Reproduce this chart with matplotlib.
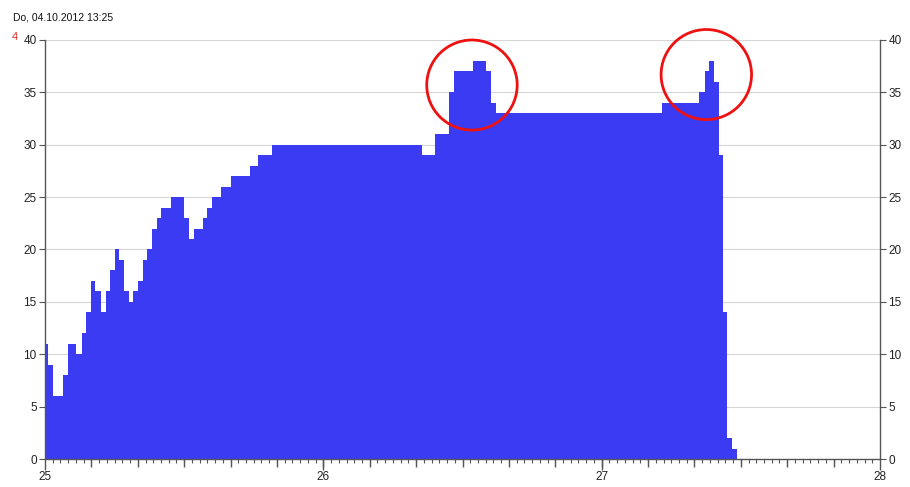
import matplotlib
matplotlib.use("Agg")
import matplotlib.pyplot as plt
from matplotlib.patches import Ellipse
from matplotlib.ticker import MultipleLocator
import numpy as np

plt.rcParams["font.family"] = ["Liberation Sans", "DejaVu Sans"]

# step start positions (day) and values
step_x = [25.000, 25.012, 25.030, 25.066, 25.081, 25.111, 25.132, 25.147, 25.164,
          25.179, 25.201, 25.219, 25.235, 25.252, 25.266, 25.283, 25.301, 25.316,
          25.334, 25.352, 25.367, 25.385, 25.401, 25.418, 25.451, 25.499, 25.516,
          25.534, 25.567, 25.582, 25.601, 25.634, 25.667, 25.735, 25.767, 25.816,
          26.354, 26.401, 26.452, 26.470, 26.538, 26.585, 26.601, 26.619, 27.216,
          27.350, 27.372, 27.387, 27.405, 27.422, 27.435, 27.452, 27.467, 27.485]
step_y = [11, 9, 6, 8, 11, 10, 12, 14, 17,
          16, 14, 16, 18, 20, 19, 16, 15, 16,
          17, 19, 20, 22, 23, 24, 25, 23, 21,
          22, 23, 24, 25, 26, 27, 28, 29, 30,
          29, 31, 35, 37, 38, 37, 34, 33, 34,
          35, 37, 38, 36, 29, 14, 2, 1, 0]

# highlighted regions (center x, center y)
circle_x = [26.534, 27.376]
circle_y = [35.7, 36.7]

title_text = "Do, 04.10.2012 13:25"
x_ticks = [25, 26, 27, 28]
y_ticks = list(range(0, 41, 5))

fig = plt.figure(figsize=(9.1, 4.87), dpi=100)
ax = fig.add_axes([45 / 910, 28 / 487, 835 / 910, 419 / 487])

ax.fill_between(step_x, step_y, 0, step="post", color="#3b3bf3", linewidth=0, zorder=2)

for cx, cy in zip(circle_x, circle_y):
    ax.add_patch(Ellipse((cx, cy), width=0.325, height=8.6, fill=False,
                         edgecolor="#ee1111", linewidth=2, zorder=5, clip_on=False))

ax.set_xlim(25, 28)
ax.set_ylim(0, 40)
ax.set_xticks(x_ticks)
ax.set_yticks(y_ticks)
ax.xaxis.set_minor_locator(MultipleLocator(1 / 36))
ax.grid(True, axis="y", color="#d6d6d6", linewidth=0.8, zorder=1)

ax.spines["top"].set_visible(False)
for side in ["left", "right", "bottom"]:
    ax.spines[side].set_color("#555555")
    ax.spines[side].set_linewidth(1)

ax.tick_params(axis="y", which="both", left=True, right=True, labelleft=True,
               labelright=True, length=4, width=0.8, color="#555555",
               labelsize=8.5, labelcolor="#222222", pad=2)
ax.tick_params(axis="x", which="major", length=8, width=1, color="#555555",
               labelsize=8.5, labelcolor="#222222", pad=1)
ax.tick_params(axis="x", which="minor", length=3, width=0.8, color="#555555")

# medium ticks every 4 hours
mid_ticks = np.arange(25 + 1 / 6, 28, 1 / 6)
ax.plot(mid_ticks, np.zeros(len(mid_ticks)), linestyle="none", marker=3,
        markersize=6, color="#555555", clip_on=False, zorder=6)

fig.text(13 / 910, 1 - 17 / 487, title_text, fontsize=7.5, va="center", ha="left", color="#111111")
fig.text(12 / 910, 1 - 37 / 487, "4", fontsize=8, va="center", ha="left", color="#e03030")

fig.savefig("out.png", dpi=100)
